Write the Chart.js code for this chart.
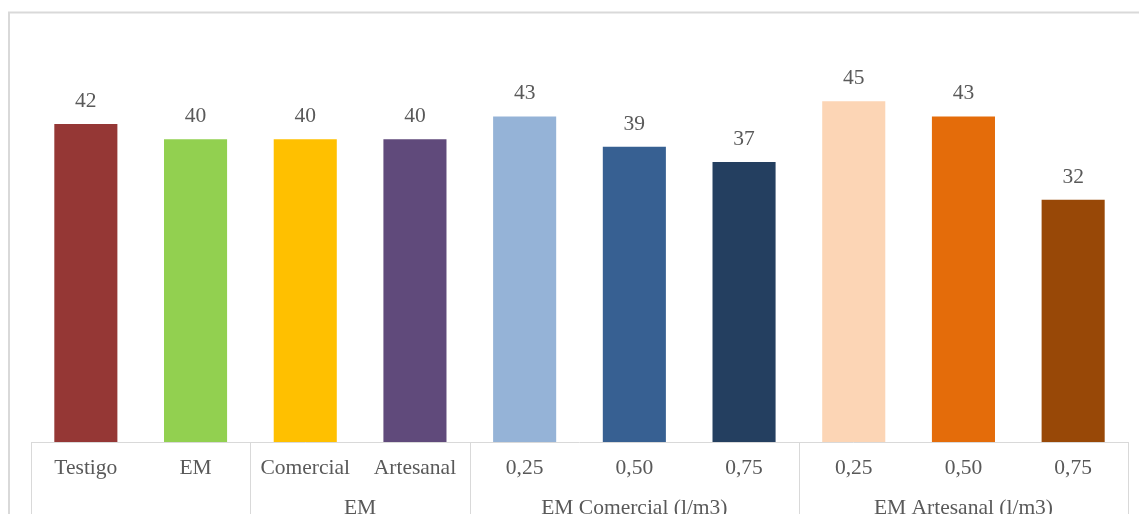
<!DOCTYPE html>
<html>
<head>
<meta charset="utf-8">
<script src="https://cdn.jsdelivr.net/npm/chart.js@4.4.1/dist/chart.umd.min.js"></script>
<style>
  html, body { margin: 0; padding: 0; background: #fff; }
  #wrap { position: absolute; left: 0; top: 0; width: 1139px; height: 514px; }
</style>
</head>
<body>
<div id="wrap"><canvas id="barChart"></canvas></div>
<script>
const categories = ['Testigo', 'EM', 'Comercial', 'Artesanal', '0,25', '0,50', '0,75', '0,25', '0,50', '0,75'];
const values = [42, 40, 40, 40, 43, 39, 37, 45, 43, 32];
const barColors = ['#953735', '#92d050', '#ffc000', '#604a7b', '#95b3d7', '#376092', '#243f60', '#fcd5b5', '#e46c0a', '#984807'];
// second row of the axis: label, first and last category index
const groupNames = ['', 'EM', 'EM Comercial (l/m3)', 'EM Artesanal (l/m3)'];
const groupStart = [0, 2, 4, 7];
const groupEnd = [1, 3, 6, 9];

const FONT = '"Liberation Serif", "Times New Roman", serif';
const FSIZE = 21.5;
const TXT = '#595959';
const LINE = '#d9d9d9';

// frame, axis line, group separators and second-row labels
const axisGroups = {
  id: 'axisGroups',
  beforeDraw(chart) {
    const ctx = chart.ctx;
    ctx.save();
    ctx.strokeStyle = LINE;
    ctx.lineWidth = 2;
    ctx.beginPath();
    ctx.moveTo(9, 600);
    ctx.lineTo(9, 12.5);
    ctx.lineTo(1200, 12.5);
    ctx.stroke();
    ctx.restore();
  },
  afterDraw(chart) {
    const ctx = chart.ctx;
    const x = chart.scales.x;
    const area = chart.chartArea;
    const half = (x.getPixelForValue(1) - x.getPixelForValue(0)) / 2;
    ctx.save();
    ctx.strokeStyle = LINE;
    ctx.lineWidth = 1;
    ctx.beginPath();
    ctx.moveTo(area.left, Math.round(area.bottom) + 0.5);
    ctx.lineTo(area.right, Math.round(area.bottom) + 0.5);
    groupStart.forEach((s, i) => {
      const xl = Math.round(x.getPixelForValue(s) - half) + 0.5;
      ctx.moveTo(xl, area.bottom);
      ctx.lineTo(xl, 560);
      if (i === groupStart.length - 1) {
        const xr = Math.round(x.getPixelForValue(groupEnd[i]) + half) + 0.5;
        ctx.moveTo(xr, area.bottom);
        ctx.lineTo(xr, 560);
      }
    });
    ctx.stroke();

    ctx.fillStyle = TXT;
    ctx.font = FSIZE + 'px ' + FONT;
    ctx.textAlign = 'center';
    ctx.textBaseline = 'alphabetic';
    groupNames.forEach((name, i) => {
      if (!name) return;
      const cx = (x.getPixelForValue(groupStart[i]) + x.getPixelForValue(groupEnd[i])) / 2;
      ctx.fillText(name, cx, area.bottom + 71.5);
    });
    ctx.restore();
  },
  afterDatasetsDraw(chart) {
    const ctx = chart.ctx;
    const meta = chart.getDatasetMeta(0);
    ctx.save();
    ctx.fillStyle = TXT;
    ctx.font = FSIZE + 'px ' + FONT;
    ctx.textAlign = 'center';
    ctx.textBaseline = 'alphabetic';
    meta.data.forEach((bar, i) => {
      ctx.fillText(String(values[i]), bar.x, bar.y - 17);
    });
    ctx.restore();
  }
};

new Chart(document.getElementById('barChart'), {
  type: 'bar',
  data: {
    labels: categories,
    datasets: [{
      data: values,
      backgroundColor: barColors,
      borderWidth: 0,
      categoryPercentage: 1,
      barPercentage: 0.575
    }]
  },
  options: {
    responsive: true,
    maintainAspectRatio: false,
    animation: false,
    layout: { padding: { left: 31, right: 11, top: 63.5, bottom: 0 } },
    plugins: { legend: { display: false }, tooltip: { enabled: false } },
    scales: {
      x: {
        grid: { display: false, drawTicks: false },
        border: { display: false },
        ticks: { color: TXT, font: { family: FONT, size: FSIZE }, padding: 13, maxRotation: 0, autoSkip: false },
        afterFit(scale) { scale.height = 72; }
      },
      y: { display: false, min: 0, max: 50 }
    }
  },
  plugins: [axisGroups]
});
</script>
</body>
</html>
